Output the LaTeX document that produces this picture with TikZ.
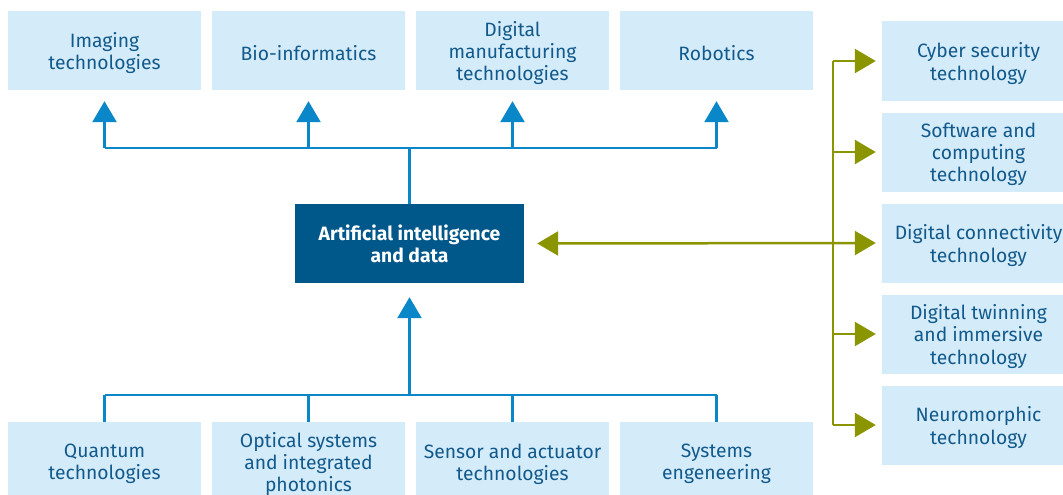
\documentclass[tikz,border=0pt]{standalone}
\usepackage{fontspec}
\setmainfont{Fira Sans}
\usetikzlibrary{arrows.meta,calc}
\definecolor{boxfill}{HTML}{D4EBF9}
\definecolor{boxtext}{HTML}{125A8C}
\definecolor{aifill}{HTML}{00578A}
\definecolor{lineblue}{HTML}{0A87C9}
\definecolor{olive}{HTML}{8A9500}
\tikzset{
  boxtxt/.style={text=boxtext, inner sep=0pt, align=center, yshift=-2.5pt,
    font=\fontsize{19.3}{22.3}\selectfont},
  tbox/.style={fill=boxfill, minimum width=193pt, minimum height=79pt,
    inner sep=0pt, label={[boxtxt]center:{#1}}},
  aibox/.style={fill=aifill, text=white, minimum width=229pt, minimum height=79pt,
    inner sep=0pt, align=center, font=\fontsize{19.3}{22.3}\selectfont\bfseries},
  bline/.style={draw=lineblue, line width=2.5pt},
  barrow/.style={bline, -{Triangle[length=21pt,width=24pt]}},
  gline/.style={draw=olive, line width=2.5pt},
  garrow/.style={gline, -{Triangle[length=21pt,width=24pt]}},
  gdarrow/.style={gline, {Triangle[length=21pt,width=24pt]}-{Triangle[length=21pt,width=24pt]}},
}
\begin{document}
\begin{tikzpicture}[x=1pt,y=-1pt]
\useasboundingbox (0,0) rectangle (1063,495);
\clip (0,0) rectangle (1063,495);
% top boxes
\node[tbox={Imaging\\technologies}] (t1) at (104.5,50.5) {};
\node[tbox={Bio-informatics}] (t2) at (308.5,50.5) {};
\node[tbox={Digital\\manufacturing\\technologies}] (t3) at (512.5,50.5) {};
\node[tbox={Robotics}] (t4) at (716.5,50.5) {};
% bottom boxes
\node[tbox={Quantum\\technologies}] (b1) at (104.5,461.5) {};
\node[tbox={Optical systems\\and integrated\\photonics}] (b2) at (308.5,461.5) {};
\node[tbox={Sensor and actuator\\technologies}] (b3) at (512.5,461.5) {};
\node[tbox={Systems\\engeneering}] (b4) at (716.5,461.5) {};
% right boxes
\node[tbox={Cyber security\\technology}] (r1) at (978.5,61) {};
\node[tbox={Software and\\computing\\technology}] (r2) at (978.5,152) {};
\node[tbox={Digital connectivity\\technology}] (r3) at (978.5,243) {};
\node[tbox={Digital twinning\\and immersive\\technology}] (r4) at (978.5,334) {};
\node[tbox={Neuromorphic\\technology}] (r5) at (978.5,425) {};
% center
\node[aibox] (ai) at (409.5,243.5) {Artificial intelligence\\and data};
% coordinates
\coordinate (topbar) at (0,148);
\coordinate (botbar) at (0,395);
\coordinate (gx) at (833,0);
% top tree
\draw[bline] (ai.north) -- (ai.north |- topbar);
\draw[bline] (t1.south |- topbar) -- (t4.south |- topbar);
\foreach \t in {t1,t2,t3,t4}
  \draw[barrow] (\t.south |- topbar) -- ($(\t.south)+(0,11)$);
% bottom tree
\draw[barrow] (ai.south |- botbar) -- ($(ai.south)+(0,14)$);
\draw[bline] (b1.north |- botbar) -- (b4.north |- botbar);
\foreach \b in {b1,b2,b3,b4}
  \draw[bline] (\b.north |- botbar) -- (\b.north);
% right tree
\draw[gline] (gx |- r1.west) -- (gx |- r5.west);
\foreach \r in {r1,r2,r4,r5}
  \draw[garrow] (gx |- \r.west) -- ($(\r.west)+(-6,0)$);
\draw[gdarrow] ($(ai.east)+(13,0)$) -- ($(r3.west)+(-6,0)$);
\end{tikzpicture}
\end{document}
